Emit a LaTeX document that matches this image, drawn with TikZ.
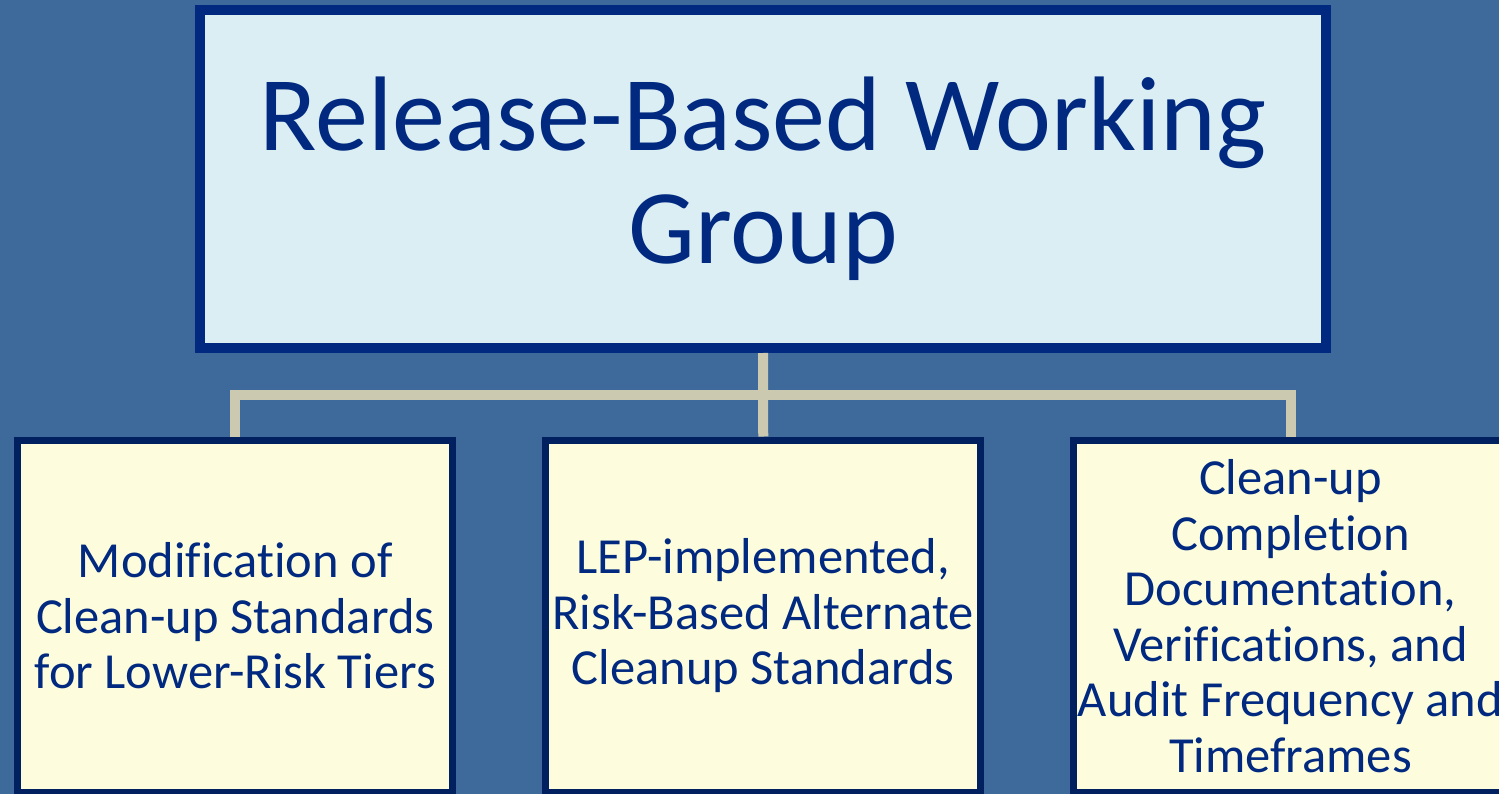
\documentclass[tikz,border=0pt]{standalone}
\usepackage{fontspec}
\setmainfont[Ligatures=NoCommon]{Carlito}
\definecolor{slideblue}{RGB}{62,106,155}
\definecolor{topfill}{RGB}{219,238,244}
\definecolor{topline}{RGB}{0,41,127}
\definecolor{tierfill}{RGB}{253,253,221}
\definecolor{tierline}{RGB}{0,32,96}
\definecolor{linkgray}{RGB}{203,201,175}
\definecolor{textnavy}{RGB}{0,41,127}
\tikzset{
	groupbox/.style={draw=topline,fill=topfill,line width=10pt,minimum width=1126pt,minimum height=338pt,
		text=textnavy,align=center,font=\fontsize{106}{113}\selectfont},
	tierbox/.style={draw=tierline,fill=tierfill,line width=7pt,minimum width=435pt,minimum height=352pt,
		text=textnavy,align=center,inner sep=0pt,font=\fontsize{50.5}{55.5}\selectfont},
	link/.style={draw=linkgray,line width=10pt}
}
\begin{document}
\begin{tikzpicture}[x=1pt,y=-1pt]
	\useasboundingbox (0,0) rectangle (1499,794);
	\clip (0,0) rectangle (1499,794);
	\fill[slideblue] (0,0) rectangle (1499,794);
	\node[groupbox] (group) at (763,179) {Release-Based Working\\Group};
	\node[tierbox] (modify) at (235.25,616) {Modification of\\Clean-up Standards\\for Lower-Risk Tiers};
	\node[tierbox] (lep) at (763.25,616) {LEP-implemented,\\Risk-Based Alternate\\Cleanup Standards};
	\node[tierbox] (closure) at (1290.5,616) {Clean-up\\Completion\\Documentation,\\Verifications, and\\Audit Frequency and\\Timeframes};
	\coordinate (bar) at (763,394.5);
	\draw[link] (group.south) -- (lep.north);
	\draw[link] (bar) -| (modify.north);
	\draw[link] (bar) -| (closure.north);
\end{tikzpicture}
\end{document}
